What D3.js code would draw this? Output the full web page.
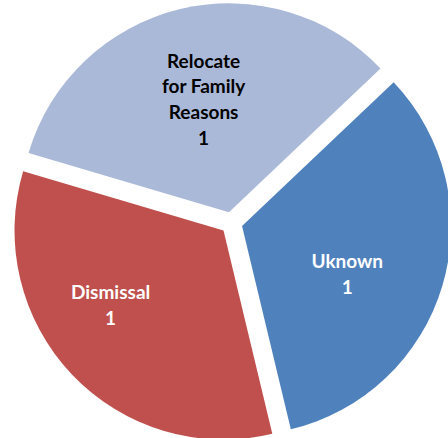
<!DOCTYPE html>
<html>
<head>
<meta charset="utf-8">
<script src="https://cdn.jsdelivr.net/npm/d3@7"></script>
<style>
  html, body { margin: 0; padding: 0; background: #fff; }
  svg { display: block; }
</style>
</head>
<body>
<div id="chart"></div>
<script>
// chart data
var categories = ["Uknown", "Dismissal", "Relocate for Family Reasons"];
var values = [1, 1, 1];
var labelLines = [["Uknown"], ["Dismissal"], ["Relocate", "for Family", "Reasons"]];
var colors = ["#4F81BD", "#C0504D", "#AAB9D7"];
var labelColors = ["#ffffff", "#ffffff", "#000000"];

var width = 448;
var height = 438;

var cx = 231.5, cy = 223;
var radius = 209;
var explode = 11;
var startAngle = 46.5 * Math.PI / 180;

// "best fit" label placement like excel: small nudges off the centroid
var labelNudge = {
    "Uknown": [-7, 15],
    "Dismissal": [-28, -6],
    "Relocate for Family Reasons": [2, 1]
};

var svg = d3.select("#chart").append("svg")
    .attr("width", width)
    .attr("height", height);

var g = svg.append("g")
    .attr("transform", "translate(" + cx + "," + cy + ")");

var data = categories.map(function (c, i) {
    return { name: c, value: values[i], lines: labelLines[i], color: colors[i], text: labelColors[i] };
});

var pie = d3.pie()
    .sort(null)
    .value(function (d) { return d.value; })
    .startAngle(startAngle)
    .endAngle(startAngle + 2 * Math.PI);

var arc = d3.arc().innerRadius(0).outerRadius(radius);
var labelArc = d3.arc().innerRadius(radius * 0.56).outerRadius(radius * 0.56);

function offset(d) {
    var mid = (d.startAngle + d.endAngle) / 2;
    return [Math.sin(mid) * explode, -Math.cos(mid) * explode];
}

var slices = g.selectAll("g.slice")
    .data(pie(data))
    .enter()
    .append("g")
    .attr("class", "slice")
    .attr("transform", function (d) {
        var o = offset(d);
        return "translate(" + o[0] + "," + o[1] + ")";
    });

slices.append("path")
    .attr("d", arc)
    .attr("fill", function (d) { return d.data.color; });

var lineH = 25.7;
slices.append("text")
    .attr("transform", function (d) {
        var c = labelArc.centroid(d);
        var n = labelNudge[d.data.name] || [0, 0];
        return "translate(" + (c[0] + n[0]) + "," + (c[1] + n[1]) + ")";
    })
    .attr("text-anchor", "middle")
    .style("font-family", "Lato, 'Open Sans', sans-serif")
    .style("font-weight", "bold")
    .style("font-size", "19px")
    .attr("fill", function (d) { return d.data.text; })
    .each(function (d) {
        var lines = d.data.lines.concat([String(d.data.value)]);
        var t = d3.select(this);
        var top = -(lines.length - 1) * lineH / 2;
        lines.forEach(function (l, i) {
            t.append("tspan")
                .attr("x", 0)
                .attr("y", top + i * lineH)
                .attr("dy", "0.35em")
                .text(l);
        });
    });
</script>
</body>
</html>
